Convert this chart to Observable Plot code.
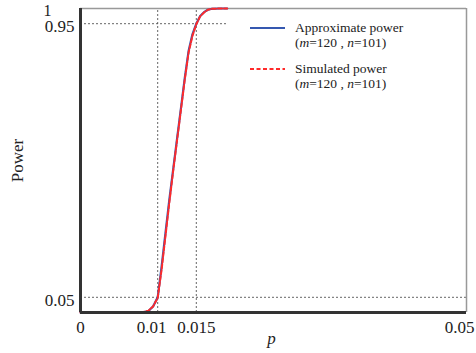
<!DOCTYPE html>
<html>
<head>
<meta charset="utf-8">
<script src="https://cdn.jsdelivr.net/npm/d3@7"></script>
<script src="https://cdn.jsdelivr.net/npm/@observablehq/plot@0.6"></script>
<style>
  html, body { margin: 0; padding: 0; background: #fff; }
  #wrap { position: relative; width: 476px; height: 353px; font-family: "Liberation Serif", "Times New Roman", serif; }
  #legend { position: absolute; left: 250px; top: 20px; font-size: 13.5px; color: #222; line-height: 15px; }
  .item { position: relative; padding-left: 45px; margin-bottom: 11px; }
  .item svg { position: absolute; left: 0; top: 3px; }
</style>
</head>
<body>
<div id="wrap"></div>
<script>
const pValues     = [0, 0.002, 0.004, 0.006, 0.008, 0.0088, 0.0094, 0.01, 0.0105, 0.011, 0.0115, 0.012, 0.0125, 0.013, 0.0135, 0.014, 0.0145, 0.015, 0.0155, 0.016, 0.0165, 0.017, 0.018, 0.019];
const approxPower = [0, 0, 0, 0, 0, 0.005, 0.02, 0.05, 0.15, 0.26, 0.37, 0.47, 0.57, 0.67, 0.77, 0.86, 0.915, 0.95, 0.975, 0.988, 0.996, 0.999, 1, 1];
const simPower    = [0, 0, 0, 0, 0.001, 0.006, 0.02, 0.048, 0.14, 0.25, 0.36, 0.465, 0.565, 0.665, 0.765, 0.855, 0.91, 0.948, 0.974, 0.987, 0.996, 0.999, 1, 1];
const xTicks = [0, 0.01, 0.015, 0.05];
const xTickLabels = ["0", "0.01", "0.015", "0.05"];
const yTicks = [0.05, 0.95];
const yTickLabels = ["0.05", "0.95"];
const yTopTick = 1;
const yTopLabel = "1";
const refX = [0.01, 0.015];
const yTitle = "Power";
const xTitle = "p";

const approx = pValues.map((p, i) => ({p, v: approxPower[i]}));
const sim = pValues.map((p, i) => ({p, v: simPower[i]}));
const font = "Liberation Serif";

const chart = Plot.plot({
  width: 476,
  height: 353,
  marginLeft: 80,
  marginRight: 10,
  marginTop: 8,
  marginBottom: 41,
  style: {fontFamily: font, background: "white"},
  x: {domain: [0, 0.05], axis: null},
  y: {domain: [0, 1], axis: null},
  marks: [
    Plot.ruleX(refX, {y1: 0, y2: 1, stroke: "#555", strokeWidth: 0.9, strokeDasharray: "2,2"}),
    Plot.ruleY([0.05], {x1: 0, x2: 0.05, stroke: "#555", strokeWidth: 0.9, strokeDasharray: "2,2"}),
    Plot.ruleY([0.95], {x1: 0, x2: 0.019, stroke: "#555", strokeWidth: 0.9, strokeDasharray: "2,2"}),
    Plot.ruleY([1], {x1: 0, x2: 0.05, stroke: "#999", strokeWidth: 1.5}),
    Plot.ruleX([0.05], {y1: 0, y2: 1, stroke: "#999", strokeWidth: 1.5}),
    Plot.line(approx, {x: "p", y: "v", stroke: "#3558b0", strokeWidth: 2.2}),
    Plot.line(sim, {x: "p", y: "v", stroke: "#ff2a2a", strokeWidth: 2, strokeDasharray: "4,2"}),
    Plot.ruleX([0], {y1: 0, y2: 1, stroke: "#333", strokeWidth: 3}),
    Plot.ruleY([0], {x1: 0, x2: 0.05, stroke: "#333", strokeWidth: 3}),
    // x tick labels
    Plot.text(xTicks.slice(0, 1), {x: d => d, y: 0, text: d => xTickLabels[0], dy: 15, fontSize: 17, fill: "#222"}),
    Plot.text(xTicks.slice(1, 2), {x: d => d, y: 0, text: d => xTickLabels[1], dy: 15, dx: -6, fontSize: 17, fill: "#222"}),
    Plot.text(xTicks.slice(2, 3), {x: d => d, y: 0, text: d => xTickLabels[2], dy: 15, fontSize: 17, fill: "#222"}),
    Plot.text(xTicks.slice(3, 4), {x: d => d, y: 0, text: d => xTickLabels[3], dy: 15, dx: -7, fontSize: 17, fill: "#222"}),
    // y tick labels
    Plot.text(yTicks, {x: 0, y: d => d, text: (d, i) => yTickLabels[i], textAnchor: "end", dx: -6, dy: 3, fontSize: 17, fill: "#222"}),
    Plot.text([yTopTick], {x: 0, y: d => d, text: d => yTopLabel, textAnchor: "start", dx: -37, dy: 2, fontSize: 16, fill: "#222"}),
    // axis titles
    Plot.text([yTitle], {x: 0, y: 0.5, text: d => d, rotate: -90, dx: -63, fontSize: 17, fill: "#222"}),
    Plot.text([xTitle], {frameAnchor: "bottom", text: d => d, dy: 31, dx: -2, fontSize: 17, fontStyle: "italic", fill: "#222"})
  ]
});

const wrap = document.getElementById("wrap");
wrap.appendChild(chart);
const legend = document.createElement("div");
legend.id = "legend";
legend.innerHTML = `
  <div class="item"><svg width="36" height="10"><line x1="0" y1="5" x2="35" y2="5" stroke="#3558b0" stroke-width="2.2"/></svg>Approximate power<br>(<i>m</i>=120 , <i>n</i>=101)</div>
  <div class="item"><svg width="36" height="10"><line x1="0" y1="5" x2="35" y2="5" stroke="#ff2a2a" stroke-width="2" stroke-dasharray="4,2.5"/></svg>Simulated power<br>(<i>m</i>=120 , <i>n</i>=101)</div>`;
wrap.appendChild(legend);
</script>
</body>
</html>
